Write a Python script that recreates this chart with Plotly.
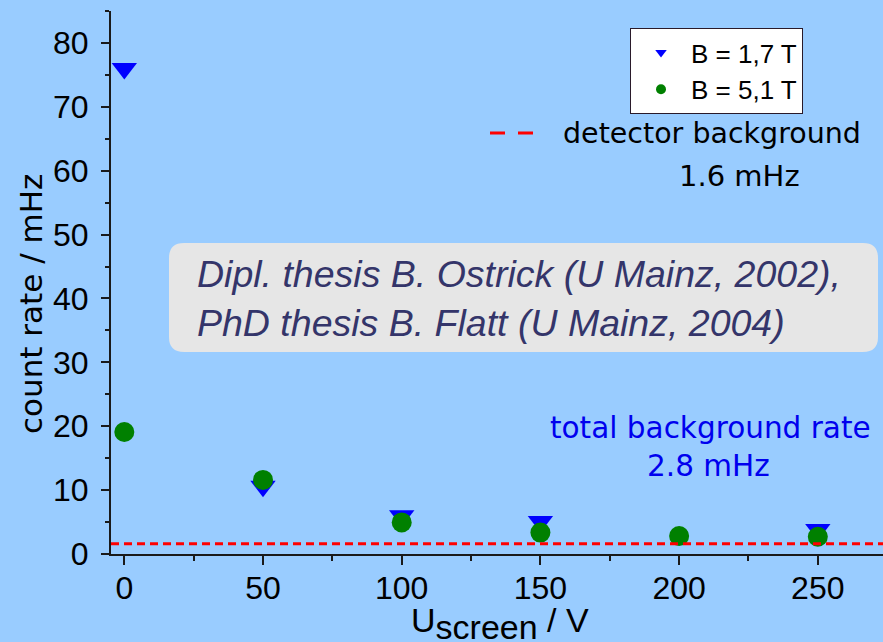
import plotly.graph_objects as go

# ---- data ----
u_screen = [0, 50, 100, 150, 200, 250]
rate_17T = [76.0, 10.6, 6.0, 5.1, None, 3.85]
rate_51T = [19.1, 11.6, 4.95, 3.35, 2.8, 2.7]
detector_bg = 1.6
series_names = ["B = 1,7 T", "B = 5,1 T"]
x_ticks = [0, 50, 100, 150, 200, 250]
y_ticks = [0, 10, 20, 30, 40, 50, 60, 70, 80]

# ---- layout geometry (pixels) ----
W, H = 883, 642
ML, MR, MT, MB = 111, 0, 11, 88
PW = W - ML - MR
PH = H - MT - MB


def px_x(p):
    return (p - ML) / PW


def px_y(p):
    return (H - MB - p) / PH


BG = "#99ccff"
AX = "#1a1a1a"
ARIAL = "Liberation Sans, Arial, sans-serif"
WIDE = "DejaVu Sans, Liberation Sans, sans-serif"

fig = go.Figure()

# data traces
fig.add_trace(go.Scatter(
    x=u_screen, y=rate_17T, mode="markers", name=series_names[0],
    legendgroup="a", showlegend=False,
    marker=dict(symbol="triangle-down", size=22, color="#0000ff", line=dict(width=0)),
))
fig.add_trace(go.Scatter(
    x=u_screen, y=rate_51T, mode="markers", name=series_names[1],
    legendgroup="b", showlegend=False,
    marker=dict(symbol="circle", size=20, color="#008000", line=dict(width=0)),
))
# legend entries (small symbols as in the reference legend)
fig.add_trace(go.Scatter(
    x=[None], y=[None], mode="markers", name=series_names[0], legendgroup="a",
    marker=dict(symbol="triangle-down", size=10, color="#0000ff", line=dict(width=0)),
))
fig.add_trace(go.Scatter(
    x=[None], y=[None], mode="markers", name=series_names[1], legendgroup="b",
    marker=dict(symbol="circle", size=10, color="#008000", line=dict(width=0)),
))

shapes = [
    # detector background line
    dict(type="line", xref="paper", yref="y", x0=0, x1=1, y0=detector_bg, y1=detector_bg,
         line=dict(color="#ff0000", width=3, dash="8px,5px"), layer="above"),
    # legend sample for detector background
    dict(type="line", xref="paper", yref="paper", x0=px_x(490), x1=px_x(534),
         y0=px_y(133), y1=px_y(133),
         line=dict(color="#ff0000", width=3, dash="15px,13px")),
]

# rounded grey reference box
bx0, bx1, by0, by1, rad = 169, 878, 243, 352, 15
hw, hh = (bx1 - bx0) / 2, (by1 - by0) / 2
path = (f"M{-hw + rad},{-hh} L{hw - rad},{-hh} Q{hw},{-hh} {hw},{-hh + rad} "
        f"L{hw},{hh - rad} Q{hw},{hh} {hw - rad},{hh} L{-hw + rad},{hh} "
        f"Q{-hw},{hh} {-hw},{hh - rad} L{-hw},{-hh + rad} Q{-hw},{-hh} {-hw + rad},{-hh} Z")
shapes.append(dict(type="path", xref="paper", yref="paper", xsizemode="pixel", ysizemode="pixel",
                   xanchor=px_x((bx0 + bx1) / 2), yanchor=px_y((by0 + by1) / 2),
                   path=path, fillcolor="#e6e6e6", line=dict(width=0), layer="below"))

annotations = [
    dict(text="Dipl. thesis B. Ostrick (U Mainz, 2002),<br>PhD thesis B. Flatt (U Mainz, 2004)",
         xref="paper", yref="paper", x=px_x(195), y=px_y(298), xanchor="left", yanchor="middle",
         align="left", showarrow=False,
         font=dict(family=ARIAL, size=37.5, color="#34356a", style="italic")),
    dict(text="detector background", xref="paper", yref="paper", x=px_x(712), y=px_y(133),
         xanchor="center", yanchor="middle", showarrow=False,
         font=dict(family=WIDE, size=28.5, color="black")),
    dict(text="1.6 mHz", xref="paper", yref="paper", x=px_x(739), y=px_y(176),
         xanchor="center", yanchor="middle", showarrow=False,
         font=dict(family=WIDE, size=29, color="black")),
    dict(text="total background rate", xref="paper", yref="paper", x=px_x(710), y=px_y(428),
         xanchor="center", yanchor="middle", showarrow=False,
         font=dict(family=WIDE, size=29.5, color="#0000ee")),
    dict(text="2.8 mHz", xref="paper", yref="paper", x=px_x(708), y=px_y(466),
         xanchor="center", yanchor="middle", showarrow=False,
         font=dict(family=WIDE, size=29.5, color="#0000ee")),
    # axis titles
    dict(text="count rate / mHz", xref="paper", yref="paper", x=px_x(31), y=px_y(304),
         xanchor="center", yanchor="middle", textangle=-90, showarrow=False,
         font=dict(family=WIDE, size=31, color="black")),
    dict(text="U<sub><span style='font-size:34px'>screen</span></sub> / V",
         xref="paper", yref="paper", x=px_x(500), y=px_y(624),
         xanchor="center", yanchor="middle", showarrow=False,
         font=dict(family=ARIAL, size=34, color="black")),
]

fig.update_layout(
    width=W, height=H,
    margin=dict(l=ML, r=MR, t=MT, b=MB, pad=0),
    paper_bgcolor=BG, plot_bgcolor=BG,
    showlegend=True,
    legend=dict(x=px_x(630), y=px_y(28), xanchor="left", yanchor="top",
                bgcolor="white", bordercolor="#2a1a2a", borderwidth=1,
                font=dict(family=ARIAL, size=26, color="black"),
                itemwidth=50, tracegroupgap=0),
    shapes=shapes,
    annotations=annotations,
    xaxis=dict(range=[-4.8, 273.5], tickmode="array", tickvals=x_ticks,
               ticks="outside", ticklen=9, tickwidth=2, tickcolor=AX,
               showline=True, linewidth=2, linecolor=AX,
               showgrid=False, zeroline=False,
               minor=dict(tickmode="linear", tick0=25, dtick=50, ticks="outside",
                          ticklen=5, tickwidth=2, tickcolor=AX),
               tickfont=dict(family=ARIAL, size=32, color="black"),
               ticklabelstandoff=-4),
    yaxis=dict(range=[0, 85], tickmode="array", tickvals=y_ticks,
               ticks="outside", ticklen=8, tickwidth=2, tickcolor=AX,
               showline=True, linewidth=2, linecolor=AX,
               showgrid=False, zeroline=False,
               minor=dict(tickmode="linear", tick0=5, dtick=10, ticks="outside",
                          ticklen=4, tickwidth=2, tickcolor=AX),
               tickfont=dict(family=ARIAL, size=32, color="black"),
               ticklabelstandoff=6),
)

fig.write_html(
    "out.html",
    config={"displayModeBar": False},
    post_script="document.body.style.margin='0px';document.body.style.overflow='hidden';",
)
